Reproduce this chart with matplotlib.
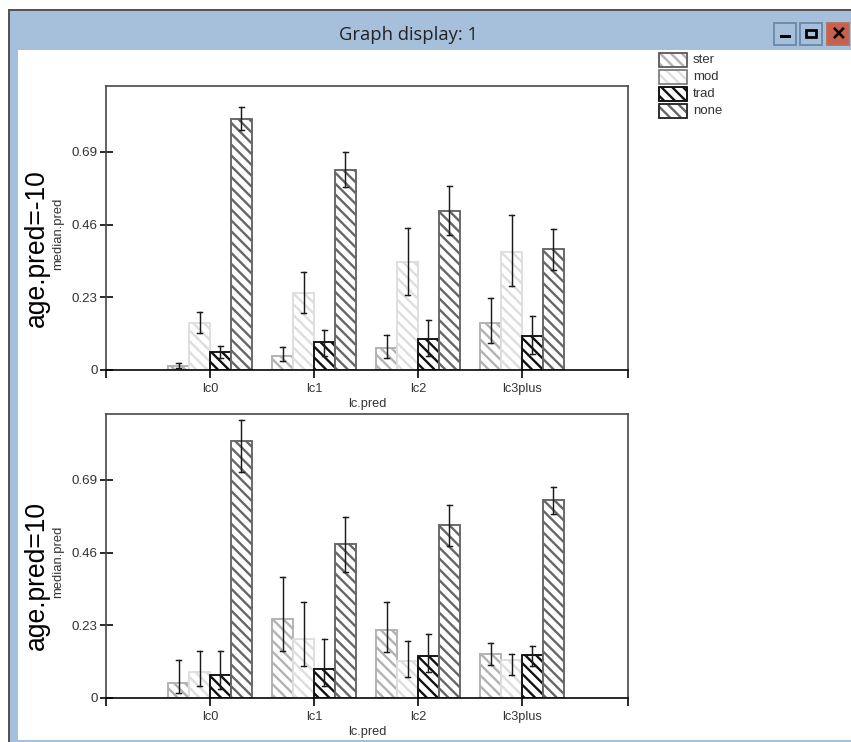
import matplotlib
matplotlib.use('Agg')
import matplotlib.pyplot as plt
from matplotlib.patches import Rectangle

plt.rcParams['font.family'] = ['Liberation Sans', 'DejaVu Sans']
plt.rcParams['hatch.linewidth'] = 1.3

W, H = 851, 742
DPI = 130

# datos
lc_levels = ['lc0', 'lc1', 'lc2', 'lc3plus']
methods = ['ster', 'mod', 'trad', 'none']
y_ticks = [0, 0.23, 0.46, 0.69]
y_labels = ['0', '0.23', '0.46', '0.69']

# age.pred=-10
ster_a = [0.013, 0.044, 0.070, 0.149]
ster_a_lo = [0.006, 0.028, 0.038, 0.085]
ster_a_hi = [0.022, 0.073, 0.111, 0.228]
mod_a = [0.149, 0.244, 0.342, 0.373]
mod_a_lo = [0.117, 0.180, 0.238, 0.266]
mod_a_hi = [0.184, 0.310, 0.449, 0.490]
trad_a = [0.057, 0.089, 0.098, 0.108]
trad_a_lo = [0.038, 0.044, 0.044, 0.051]
trad_a_hi = [0.076, 0.127, 0.158, 0.171]
none_a = [0.795, 0.633, 0.503, 0.383]
none_a_lo = [0.759, 0.579, 0.427, 0.316]
none_a_hi = [0.832, 0.690, 0.582, 0.446]

# age.pred=10
ster_b = [0.047, 0.250, 0.215, 0.139]
ster_b_lo = [0.016, 0.149, 0.146, 0.104]
ster_b_hi = [0.120, 0.383, 0.304, 0.174]
mod_b = [0.082, 0.187, 0.117, 0.120]
mod_b_lo = [0.038, 0.101, 0.066, 0.073]
mod_b_hi = [0.149, 0.304, 0.180, 0.139]
trad_b = [0.073, 0.092, 0.133, 0.136]
trad_b_lo = [0.028, 0.038, 0.082, 0.101]
trad_b_hi = [0.149, 0.187, 0.203, 0.164]
none_b = [0.813, 0.487, 0.547, 0.627]
none_b_lo = [0.716, 0.399, 0.481, 0.582]
none_b_hi = [0.880, 0.573, 0.611, 0.668]

colors = ['#b2b2b2', '#dcdfdc', '#111111', '#666666']
legend_edges = ['#555555', '#777777', '#111111', '#222222']

fig = plt.figure(figsize=(W / DPI, H / DPI), dpi=DPI, facecolor='white')


# Rectangulo en coordenadas de pixel de la ventana
def chrome(x0, y0, x1, y1, fc, ec='none', lw=0, z=0):
    fig.add_artist(Rectangle((x0 / W, 1 - y1 / H), (x1 - x0) / W, (y1 - y0) / H,
                             transform=fig.transFigure, fc=fc, ec=ec, lw=lw, zorder=z))


def px_axes(x0, y0, x1, y1):
    return fig.add_axes([x0 / W, 1 - y1 / H, (x1 - x0) / W, (y1 - y0) / H])


# Marco de la ventana
band = '#a6c0dc'
chrome(8, 10, 851, 50, band)
chrome(8, 50, 18, 742, band)
chrome(18, 740, 851, 742, band)
chrome(8, 9, 851, 10.5, '#555555')
chrome(8, 9, 9.5, 742, '#555555')
fig.text(408 / W, 1 - 35.5 / H, 'Graph display: 1', ha='center', va='center', fontsize=10.2,
         color='#222222', family=['Open Sans', 'DejaVu Sans'])

# Botones
chrome(774, 23, 796, 45, band, ec='#6b87a8', lw=1)
chrome(800, 23, 822, 45, band, ec='#6b87a8', lw=1)
chrome(827, 23, 849, 45, '#c8604c', ec='#b5705f', lw=1)
chrome(780, 35, 791, 38, '#000000')
chrome(806, 30, 816, 37, 'none', ec='#000000', lw=1.5)
fig.text(838 / W, 1 - 34 / H, '×', ha='center', va='center', fontsize=13, fontweight='bold', color='black')


def draw_panel(ax, vals, los, his, side_label):
    for k in range(4):
        xs = [i - 0.3 + 0.2 * k for i in range(4)]
        ax.bar(xs, vals[k], width=0.2, facecolor='white', edgecolor=colors[k], hatch='\\\\\\\\',
               linewidth=1.05, zorder=2)
        for x, lo, hi in zip(xs, los[k], his[k]):
            ax.plot([x, x], [lo, hi], color='#1a1a1a', lw=0.8, zorder=3)
            ax.plot([x - 0.024, x + 0.024], [lo, lo], color='#1a1a1a', lw=0.8, zorder=3)
            ax.plot([x - 0.024, x + 0.024], [hi, hi], color='#1a1a1a', lw=0.8, zorder=3)
    ax.set_xlim(-1, 4.02)
    ax.set_ylim(0, 0.898)
    ax.set_xticks([-1, 0, 1, 2, 3, 4.02])
    ax.set_xticklabels([''] + lc_levels + [''], fontsize=7.1, color='#333333')
    ax.set_yticks(y_ticks)
    ax.set_yticklabels(y_labels, fontsize=7.4, color='#333333')
    ax.tick_params(axis='x', length=4.4, width=0.9, pad=2.8)
    ax.tick_params(axis='y', direction='inout', length=7.2, width=0.9, pad=1)
    for s in ax.spines.values():
        s.set_linewidth(0.9)
        s.set_color('#444444')
    ax.spines['bottom'].set_color('black')
    ax.set_xlabel('lc.pred', fontsize=7.1, labelpad=1.8, color='#333333')
    ax.text(-0.091, 0.48, 'median.pred', transform=ax.transAxes, rotation=90, ha='center', va='center',
            fontsize=7.2, color='#333333')
    ax.text(-0.132, 0.43, side_label, transform=ax.transAxes, rotation=90, ha='center', va='center',
            fontsize=14.7, color='black')


ax1 = px_axes(106, 86, 628, 370)
draw_panel(ax1, [ster_a, mod_a, trad_a, none_a], [ster_a_lo, mod_a_lo, trad_a_lo, none_a_lo],
           [ster_a_hi, mod_a_hi, trad_a_hi, none_a_hi], 'age.pred=-10')
ax2 = px_axes(106, 414, 628, 698)
draw_panel(ax2, [ster_b, mod_b, trad_b, none_b], [ster_b_lo, mod_b_lo, trad_b_lo, none_b_lo],
           [ster_b_hi, mod_b_hi, trad_b_hi, none_b_hi], 'age.pred=10')

# Leyenda
for i, name in enumerate(methods):
    y0 = 53 + 17.1 * i
    fig.add_artist(Rectangle((659 / W, 1 - (y0 + 14) / H), 28 / W, 14 / H, transform=fig.transFigure,
                             fc='white', ec=colors[i], hatch='\\\\\\\\', lw=0.9))
    fig.add_artist(Rectangle((659 / W, 1 - (y0 + 14) / H), 28 / W, 14 / H, transform=fig.transFigure,
                             fc='none', ec=legend_edges[i], lw=0.9))
    fig.text(693 / W, 1 - (y0 + 7) / H, name, ha='left', va='center', fontsize=7.3, color='#333333')

fig.savefig('out.png', dpi=DPI)
